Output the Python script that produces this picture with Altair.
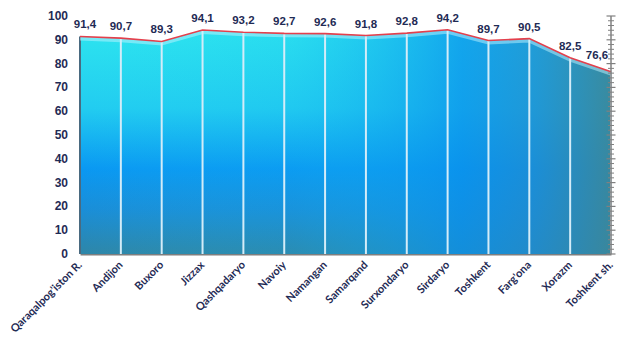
import altair as alt
import pandas as pd

regions = ["Qaraqalpog'iston R.", "Andijon", "Buxoro", "Jizzax", "Qashqadaryo", "Navoiy",
           "Namangan", "Samarqand", "Surxondaryo", "Sirdaryo", "Toshkent", "Farg'ona",
           "Xorazm", "Toshkent sh."]
values = [91.4, 90.7, 89.3, 94.1, 93.2, 92.7, 92.6, 91.8, 92.8, 94.2, 89.7, 90.5, 82.5, 76.6]
y_ticks = list(range(0, 101, 10))
right_minor = list(range(0, 101, 2))

df = pd.DataFrame({"Region": regions, "Value": values})
df["Label"] = [f"{v:.1f}".replace(".", ",") for v in values]
df["First"] = [r == regions[0] for r in regions]

NAVY = "#1F2B55"
GRAY = "#808080"
W, H = 531, 238

x_axis = alt.Axis(title=None, labelAngle=-45, labelAlign="right", labelBaseline="middle",
                  labelPadding=9, ticks=False, domainColor="#7F7F7F", domainWidth=2,
                  labelFont="Lato", labelFontWeight="bold", labelFontSize=11,
                  labelColor=NAVY, grid=False, labelOverlap=False)
x_scale = alt.Scale(domain=regions, type="point", padding=0)
y_scale = alt.Scale(domain=[0, 100], nice=False, zero=True)

xs = alt.X("Region:N", sort=regions, scale=x_scale, axis=x_axis)
yv = alt.Y("Value:Q", scale=y_scale, axis=None)
base = alt.Chart(df)

area_v = base.mark_area(
    color=alt.Gradient(gradient="linear", x1=0, x2=0, y1=0, y2=1,
                       stops=[alt.GradientStop(color="#2DE4EF", offset=0),
                              alt.GradientStop(color="#22CCF0", offset=0.35),
                              alt.GradientStop(color="#0A98F2", offset=0.62),
                              alt.GradientStop(color="#1A8ED8", offset=0.8),
                              alt.GradientStop(color="#2E86A8", offset=1)]),
    interpolate="linear"
).encode(x=xs, y=yv)

area_h = base.mark_area(
    color=alt.Gradient(gradient="linear", x1=0, x2=1, y1=0, y2=0,
                       stops=[alt.GradientStop(color="rgba(40,230,240,0)", offset=0),
                              alt.GradientStop(color="rgba(20,180,240,0.15)", offset=0.4),
                              alt.GradientStop(color="rgba(10,145,235,0.75)", offset=0.72),
                              alt.GradientStop(color="rgba(30,140,210,0.8)", offset=0.85),
                              alt.GradientStop(color="rgba(58,135,155,0.95)", offset=1)]),
    interpolate="linear"
).encode(x=xs, y=yv)

rules = base.mark_rule(strokeWidth=2).encode(
    x=xs,
    y=yv,
    y2=alt.datum(0),
    color=alt.condition("datum.First", alt.value("#4A6A80"), alt.value("#D4ECF8")),
)

glow = base.mark_line(color="#BFF4FF", strokeWidth=4, opacity=0.5, yOffset=2).encode(x=xs, y=yv)
line = base.mark_line(color="#E4404C", strokeWidth=1.6).encode(x=xs, y=yv)

txt = dict(font="Arial", fontWeight="bold", fontSize=11.5, color=NAVY)
labels_mid = base.transform_filter(
    (alt.datum.Region != regions[0]) & (alt.datum.Region != regions[-1])
).mark_text(dy=-11, **txt).encode(x=xs, y=yv, text="Label:N")
label_first = base.transform_filter(alt.datum.Region == regions[0]).mark_text(
    dy=-11, dx=5, **txt).encode(x=xs, y=yv, text="Label:N")
label_last = base.transform_filter(alt.datum.Region == regions[-1]).mark_text(
    dy=-16, dx=-14, **txt).encode(x=xs, y=yv, text="Label:N")

# left value labels (0..100 step 10), placed through the y scale
ytick_df = pd.DataFrame({"T": y_ticks})
ytick_df["Txt"] = [str(t) for t in y_ticks]
ylabels = alt.Chart(ytick_df).mark_text(
    align="right", baseline="middle", font="Arial", fontWeight="bold", fontSize=12, color=NAVY
).encode(x=alt.value(-12), y=alt.Y("T:Q", scale=y_scale, axis=None), text="Txt:N")

# right-hand axis line with major/minor ticks
tick_df = pd.DataFrame({"T": right_minor})
tick_df["Major"] = [t % 10 == 0 for t in right_minor]
right_axis = alt.Chart(pd.DataFrame({"lo": [0], "hi": [100]})).mark_rule(
    color=GRAY, strokeWidth=1.5).encode(
    x=alt.value(W), y=alt.Y("lo:Q", scale=y_scale, axis=None), y2="hi:Q")
minor = alt.Chart(tick_df).transform_filter("!datum.Major").mark_rule(
    color=GRAY, strokeWidth=1).encode(
    x=alt.value(W - 3), x2=alt.value(W + 3), y=alt.Y("T:Q", scale=y_scale, axis=None))
major = alt.Chart(tick_df).transform_filter("datum.Major").mark_rule(
    color=GRAY, strokeWidth=1.2).encode(
    x=alt.value(W - 4.5), x2=alt.value(W + 4.5), y=alt.Y("T:Q", scale=y_scale, axis=None))

chart = alt.layer(area_v, area_h, rules, glow, line, right_axis, minor, major,
                  labels_mid, label_first, label_last, ylabels).properties(
    width=W, height=H,
    autosize=alt.AutoSizeParams(type="none"),
    padding={"left": 72, "top": 8, "right": 13, "bottom": 100},
    background="white",
).configure_view(stroke=None)

chart.save("out.html", embed_options={"renderer": "svg", "actions": False})
